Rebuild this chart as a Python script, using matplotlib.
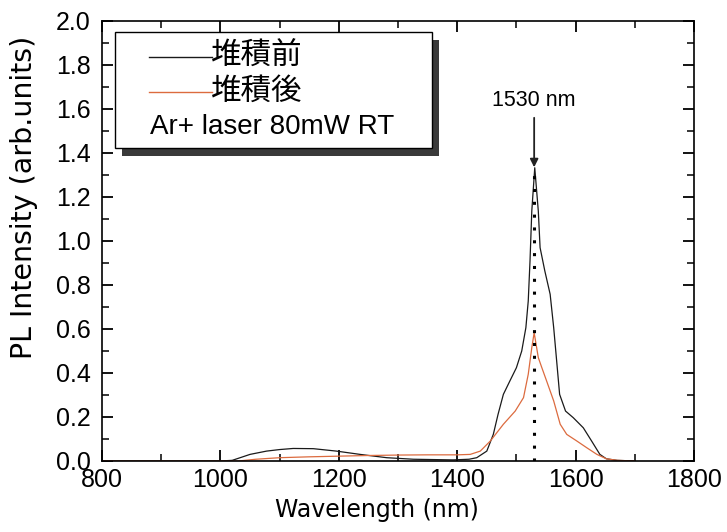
import matplotlib
matplotlib.use("Agg")
import matplotlib.pyplot as plt
from matplotlib.patches import Rectangle
from matplotlib.lines import Line2D
from matplotlib.ticker import MultipleLocator, FormatStrFormatter

plt.rcParams['font.family'] = ['Liberation Sans', 'Noto Sans CJK JP', 'DejaVu Sans']

# ---- data ----
wl_before = [800, 1000, 1020, 1050, 1078, 1100, 1123, 1157, 1196, 1236, 1281, 1326,
             1393, 1420, 1433, 1450, 1461, 1469, 1478, 1489, 1500, 1509, 1516, 1520,
             1523, 1526, 1531, 1537, 1540, 1548, 1557, 1563, 1568, 1573, 1583, 1596,
             1613, 1627, 1641, 1652, 1670, 1700]
int_before = [0.0, 0.0, 0.003, 0.03, 0.045, 0.052, 0.057, 0.056, 0.045, 0.03, 0.015, 0.008,
              0.005, 0.008, 0.015, 0.045, 0.121, 0.212, 0.303, 0.364, 0.424, 0.5, 0.606, 0.727,
              0.91, 1.136, 1.333, 1.136, 0.97, 0.864, 0.758, 0.606, 0.455, 0.303, 0.227, 0.197,
              0.151, 0.091, 0.03, 0.01, 0.003, 0.0]

wl_after = [800, 1030, 1060, 1100, 1150, 1200, 1250, 1300, 1350, 1400, 1422, 1439,
            1456, 1478, 1498, 1512, 1520, 1526, 1530, 1537, 1543, 1551, 1563, 1574,
            1585, 1602, 1619, 1636, 1652, 1670, 1700]
int_after = [0.0, 0.0, 0.008, 0.015, 0.019, 0.022, 0.025, 0.027, 0.028, 0.028, 0.03, 0.045,
             0.091, 0.167, 0.227, 0.288, 0.394, 0.515, 0.583, 0.47, 0.424, 0.364, 0.273, 0.167,
             0.121, 0.091, 0.06, 0.03, 0.01, 0.003, 0.0]

legend_labels = ['堆積前', '堆積後']
condition_text = 'Ar+ laser 80mW RT'
peak_wl = 1530
peak_label = '1530 nm'

W, H = 727, 532
fig = plt.figure(figsize=(W / 100, H / 100), dpi=100)
ax = fig.add_axes([102 / W, 1 - 461 / H, (694 - 102) / W, (461 - 21) / H])

ax.plot(wl_before, int_before, color='#1a1a1a', lw=0.9)
ax.plot(wl_after, int_after, color='#dc6b3f', lw=0.9)

# dotted vertical marker at the peak
ax.plot([peak_wl, peak_wl], [0, max(int_before)], color='black', lw=2.2,
        linestyle=(0, (1, 3.2)))
ax.annotate('', xy=(peak_wl, 1.335), xytext=(peak_wl, 1.56),
            arrowprops=dict(arrowstyle='-|>', color='#222222', lw=1.3,
                            mutation_scale=12, shrinkA=0, shrinkB=0))
ax.text(peak_wl, 1.64, peak_label, ha='center', va='center', fontsize=15.5)

ax.set_xlim(800, 1800)
ax.set_ylim(0, 2.0)
ax.xaxis.set_major_locator(MultipleLocator(200))
ax.xaxis.set_minor_locator(MultipleLocator(100))
ax.yaxis.set_major_locator(MultipleLocator(0.2))
ax.yaxis.set_minor_locator(MultipleLocator(0.1))
ax.yaxis.set_major_formatter(FormatStrFormatter('%.1f'))
ax.tick_params(which='both', direction='in', top=True, right=True, labelsize=18)
ax.tick_params(which='major', length=8, width=1.3)
ax.tick_params(which='minor', length=5, width=1.1)
ax.tick_params(axis='y', pad=8)
ax.tick_params(axis='x', pad=5)
for s in ax.spines.values():
    s.set_linewidth(1.2)

ax.set_xlabel('Wavelength (nm)', fontsize=17, family=['DejaVu Sans'])
ax.set_ylabel('PL Intensity (arb.units)', fontsize=20.5, family=['DejaVu Sans'])
ax.xaxis.set_label_coords((377 - 102) / 592, -0.085)
ax.yaxis.set_label_coords(-0.108, 0.60)

# ---- custom legend box with shadow (pixel coordinates -> figure fraction) ----
def fx(px):
    return px / W

def fy(py):
    return 1 - py / H

bx0, bx1, by0, by1 = 115, 432, 32, 148
fig.patches.append(Rectangle((fx(bx0 + 7), fy(by1 + 8)), fx(bx1 - bx0), (by1 - by0) / H,
                             transform=fig.transFigure, facecolor='#3a3a3a',
                             edgecolor='none', zorder=5))
fig.patches.append(Rectangle((fx(bx0), fy(by1)), fx(bx1 - bx0), (by1 - by0) / H,
                             transform=fig.transFigure, facecolor='white',
                             edgecolor='black', lw=1.0, zorder=6))
fig.lines.append(Line2D([fx(149), fx(212)], [fy(57), fy(57)], transform=fig.transFigure,
                        color='#1a1a1a', lw=1.0, zorder=7))
fig.lines.append(Line2D([fx(149), fx(212)], [fy(92), fy(92)], transform=fig.transFigure,
                        color='#dc6b3f', lw=1.0, zorder=7))
fig.text(fx(211), fy(56), legend_labels[0], ha='left', va='center', fontsize=22,
         family=['Noto Sans CJK JP'], zorder=8)
fig.text(fx(211), fy(91), legend_labels[1], ha='left', va='center', fontsize=22,
         family=['Noto Sans CJK JP'], zorder=8)
fig.text(fx(150), fy(127), condition_text, ha='left', va='center', fontsize=20, zorder=8)

fig.savefig('out.png', dpi=100)
